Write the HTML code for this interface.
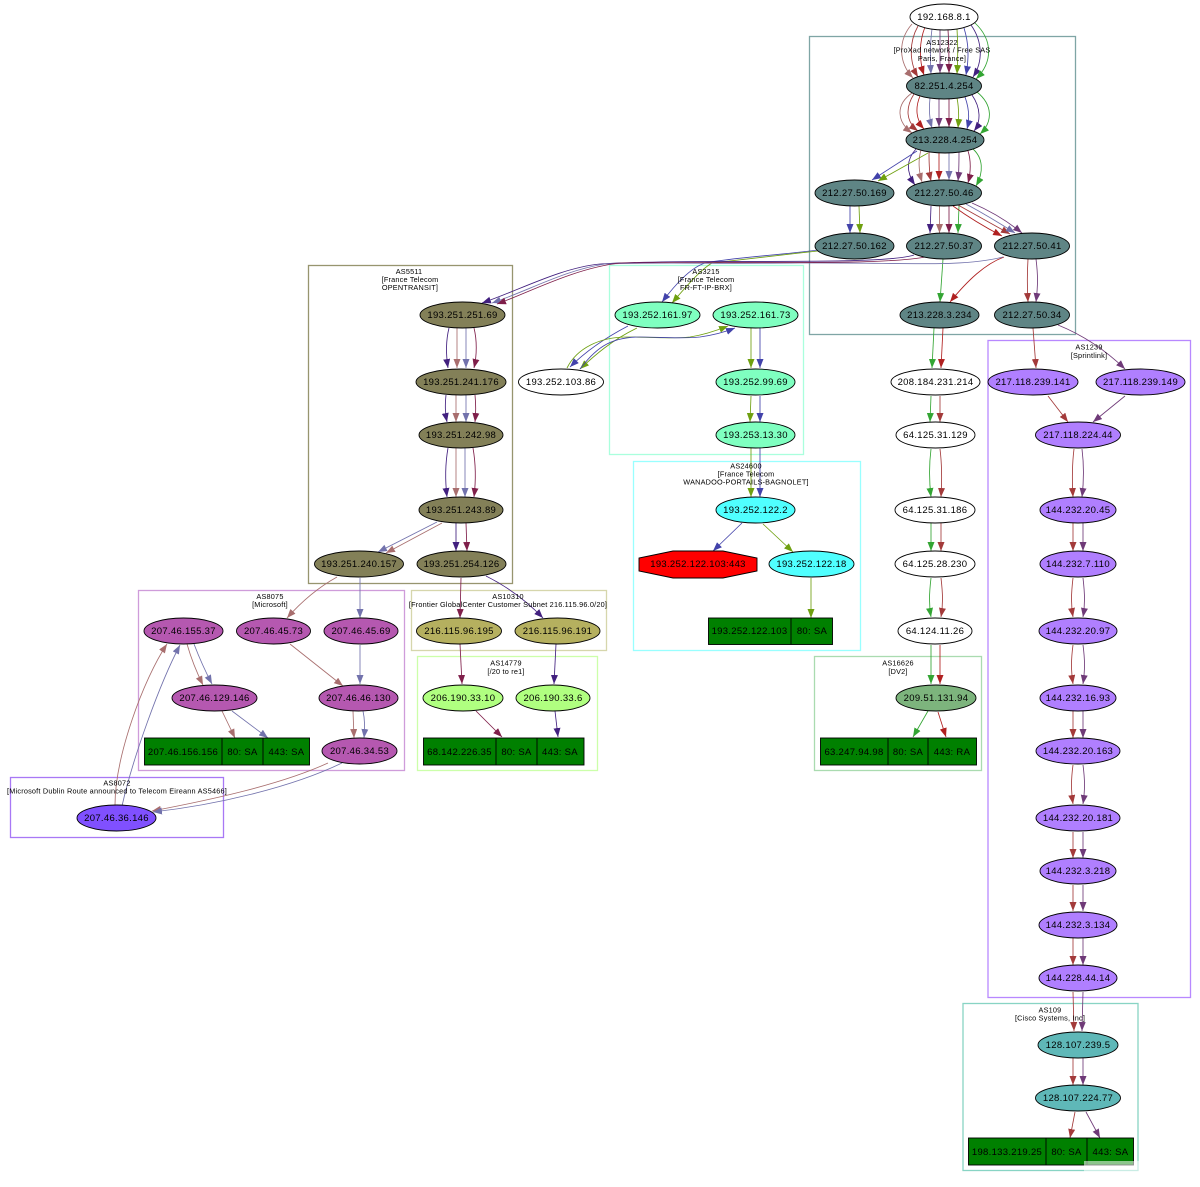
<!DOCTYPE html>
<html><head><meta charset="utf-8"><title>AS trace graph</title>
<style>
html,body{margin:0;padding:0;background:#fff}
svg{display:block}
text{font-family:"Liberation Sans",sans-serif;font-size:9.5px;letter-spacing:.3px;text-anchor:middle;fill:#000}
.l text{font-size:7.3px;letter-spacing:.2px}
.e path{fill:none;stroke-width:.85}
.n ellipse,.n polygon,.n rect{stroke:#000;stroke-width:.9}
.n line{stroke:#000;stroke-width:.9}
.c rect{fill:none;stroke-width:1.3}
.a{stroke:#a86e6e;marker-end:url(#a)}
.b{stroke:#a33a3a;marker-end:url(#b)}
.r{stroke:#b02020;marker-end:url(#r)}
.d{stroke:#7272ac;marker-end:url(#d)}
.p{stroke:#6f3a78;marker-end:url(#p)}
.w{stroke:#7f1f4a;marker-end:url(#w)}
.g{stroke:#6fa010;marker-end:url(#g)}
.h{stroke:#4242aa;marker-end:url(#h)}
.i{stroke:#42207f;marker-end:url(#i)}
.j{stroke:#33a533;marker-end:url(#j)}
</style></head><body>
<svg xmlns="http://www.w3.org/2000/svg" width="1200" height="1187" viewBox="0 0 1200 1187">
<defs>
<marker id="a" markerUnits="userSpaceOnUse" markerWidth="10" markerHeight="8" refX="9" refY="3.5" orient="auto"><polygon points="0,0 9,3.5 0,7" fill="#a86e6e"/></marker>
<marker id="b" markerUnits="userSpaceOnUse" markerWidth="10" markerHeight="8" refX="9" refY="3.5" orient="auto"><polygon points="0,0 9,3.5 0,7" fill="#a33a3a"/></marker>
<marker id="r" markerUnits="userSpaceOnUse" markerWidth="10" markerHeight="8" refX="9" refY="3.5" orient="auto"><polygon points="0,0 9,3.5 0,7" fill="#b02020"/></marker>
<marker id="d" markerUnits="userSpaceOnUse" markerWidth="10" markerHeight="8" refX="9" refY="3.5" orient="auto"><polygon points="0,0 9,3.5 0,7" fill="#7272ac"/></marker>
<marker id="p" markerUnits="userSpaceOnUse" markerWidth="10" markerHeight="8" refX="9" refY="3.5" orient="auto"><polygon points="0,0 9,3.5 0,7" fill="#6f3a78"/></marker>
<marker id="w" markerUnits="userSpaceOnUse" markerWidth="10" markerHeight="8" refX="9" refY="3.5" orient="auto"><polygon points="0,0 9,3.5 0,7" fill="#7f1f4a"/></marker>
<marker id="g" markerUnits="userSpaceOnUse" markerWidth="10" markerHeight="8" refX="9" refY="3.5" orient="auto"><polygon points="0,0 9,3.5 0,7" fill="#6fa010"/></marker>
<marker id="h" markerUnits="userSpaceOnUse" markerWidth="10" markerHeight="8" refX="9" refY="3.5" orient="auto"><polygon points="0,0 9,3.5 0,7" fill="#4242aa"/></marker>
<marker id="i" markerUnits="userSpaceOnUse" markerWidth="10" markerHeight="8" refX="9" refY="3.5" orient="auto"><polygon points="0,0 9,3.5 0,7" fill="#42207f"/></marker>
<marker id="j" markerUnits="userSpaceOnUse" markerWidth="10" markerHeight="8" refX="9" refY="3.5" orient="auto"><polygon points="0,0 9,3.5 0,7" fill="#33a533"/></marker>
</defs>

<g class="c">
<rect x="809.5" y="36.5" width="266" height="298" stroke="#7fa5a5"/>
<rect x="308.5" y="265.5" width="204" height="318" stroke="#97956f"/>
<rect x="609.5" y="265.5" width="194" height="189" stroke="#aaffdd"/>
<rect x="633.5" y="461.5" width="227" height="189" stroke="#99ffff"/>
<rect x="411.5" y="590.5" width="195" height="60" stroke="#d6d6ac"/>
<rect x="417.5" y="656.5" width="180" height="114" stroke="#ccffaa"/>
<rect x="138.5" y="590.5" width="266" height="180" stroke="#cf9cda"/>
<rect x="10.5" y="777.5" width="213" height="60" stroke="#a878f5"/>
<rect x="814.5" y="656.5" width="167" height="114" stroke="#aadbb0"/>
<rect x="988" y="340.5" width="202.5" height="657" stroke="#b888ff"/>
<rect x="963" y="1003.5" width="175" height="167" stroke="#88d4c4"/>
</g>

<g class="e">
<!-- 192 to 82 -->
<path class="a" d="M912,24 C898,40 898,62 913,78"/>
<path class="b" d="M918,26 C909,42 909,62 918,77"/>
<path class="r" d="M925,27 C919,42 919,60 924,75"/>
<path class="d" d="M932,29 C930,44 930,58 931,74"/>
<path class="p" d="M940,30 V73"/>
<path class="w" d="M948,30 C949,44 949,58 949,73"/>
<path class="g" d="M957,29 C958,44 958,58 957,74"/>
<path class="h" d="M964,28 C969,44 969,58 966,75"/>
<path class="i" d="M971,25 C983,42 983,62 973,77"/>
<path class="j" d="M975,23 C993,40 993,62 976,79"/>
<!-- 82 to 213 -->
<path class="a" d="M912,93 C895,105 897,122 912,133"/>
<path class="b" d="M914,94 C905,108 906,122 918,131"/>
<path class="r" d="M920,96 C915,108 916,120 924,129"/>
<path class="d" d="M930,98 C929,108 929,118 932,128"/>
<path class="p" d="M939,99 V127"/>
<path class="w" d="M949,99 V127"/>
<path class="g" d="M957,98 C959,108 959,118 958,128"/>
<path class="h" d="M965,97 C969,108 970,118 967,129"/>
<path class="i" d="M972,95 C981,108 981,122 974,131"/>
<path class="j" d="M977,92 C993,105 993,122 980,134"/>
<!-- 213 to 46 -->
<path class="i" d="M916,149 C906,160 906,172 915,185"/>
<path class="a" d="M921,150 C918,160 919,172 922,182"/>
<path class="b" d="M929,152 C929,160 929,172 931,181"/>
<path class="r" d="M939,153 V180"/>
<path class="d" d="M949,153 V180"/>
<path class="p" d="M959,152 C959,162 959,172 958,181"/>
<path class="w" d="M968,151 C971,160 971,172 968,183"/>
<path class="j" d="M973,149 C983,158 984,172 976,186"/>
<!-- 213 to 169 -->
<path class="h" d="M917,151 L872,180"/>
<path class="g" d="M928,153 L878,181"/>
<path class="h" d="M850,206 V233"/>
<path class="g" d="M859,206 L860,233"/>
<path class="i" d="M931,206 L930,233"/>
<path class="a" d="M939.5,206 V233"/>
<path class="w" d="M949,206 V233"/>
<path class="j" d="M959,206 L958,233"/>
<path class="r" d="M953,206 Q975,222 1002,236"/>
<path class="b" d="M958,205 Q985,220 1010,234"/>
<path class="d" d="M966,204 Q990,217 1015,233"/>
<path class="p" d="M972,203 Q1000,215 1022,233"/>
<path class="j" d="M943,259 L940,302"/>
<path class="r" d="M1004,257 C985,264 968,280 950,302"/>
<path class="b" d="M1028,259 C1027,275 1027,285 1028,302"/>
<path class="p" d="M1036,259 C1038,275 1038,285 1036,302"/>
<path class="b" d="M1033,328 L1036,368"/>
<path class="p" d="M1058,325 Q1095,340 1125,369"/>
<path class="j" d="M934,328 L932,368"/>
<path class="r" d="M943,328 L941,368"/>
<path class="j" d="M931,396 L930,422"/>
<path class="b" d="M940,396 V422"/>
<path class="b" d="M1048,396 L1068,422"/>
<path class="p" d="M1125,396 L1093,422"/>
<!-- right column -->
<path class="j" d="M931,449 C929,465 929,480 931,497"/>
<path class="b" d="M940,449 C942,465 942,480 941,497"/>
<path class="j" d="M931,523 V551"/>
<path class="b" d="M941,523 V551"/>
<path class="j" d="M931,578 C929,595 929,605 931,617"/>
<path class="b" d="M941,578 C943,595 943,605 941,617"/>
<path class="j" d="M931,645 V684"/>
<path class="r" d="M940,645 V684"/>
<path class="j" d="M928,711 L913,737"/>
<path class="r" d="M938,712 L946,737"/>
<!-- sprint -->
<path class="b" d="M1074,449 C1072,465 1072,480 1073,497"/>
<path class="p" d="M1082,449 C1084,465 1084,480 1082,497"/>
<path class="b" d="M1073,523 V551"/>
<path class="p" d="M1083,523 V551"/>
<path class="b" d="M1073,578 C1071,595 1071,605 1073,617"/>
<path class="p" d="M1083,578 C1085,595 1085,605 1083,617"/>
<path class="b" d="M1073,645 C1071,660 1071,670 1073,684"/>
<path class="p" d="M1083,645 C1085,660 1085,670 1083,684"/>
<path class="b" d="M1073,711 V738"/>
<path class="p" d="M1083,711 V738"/>
<path class="b" d="M1073,765 C1071,780 1071,790 1073,804"/>
<path class="p" d="M1083,765 C1085,780 1085,790 1083,804"/>
<path class="b" d="M1073,832 V858"/>
<path class="p" d="M1083,832 V858"/>
<path class="b" d="M1073,885 V911"/>
<path class="p" d="M1083,885 V911"/>
<path class="b" d="M1073,938 V965"/>
<path class="p" d="M1083,938 V965"/>
<path class="b" d="M1073,992 L1074,1031"/>
<path class="p" d="M1083,992 L1082,1031"/>
<path class="b" d="M1073,1058 V1085"/>
<path class="p" d="M1083,1058 V1085"/>
<path class="b" d="M1075,1112 L1070,1138"/>
<path class="p" d="M1086,1112 L1100,1138"/>
<!-- long edges -->
<path class="h" d="M818,250 C770,256 730,258 705,263 C690,268 675,285 662,302"/>
<path class="g" d="M818,251 C780,255 740,260 712,263 C700,270 685,288 672,303"/>
<path class="i" d="M914,255 C880,266 700,258 600,264 C560,268 520,290 482,303"/>
<path class="d" d="M1003,257 C960,268 900,262 800,263 C700,264 660,262 605,264 C565,270 530,290 492,303"/>
<path class="w" d="M925,257 C880,266 720,261 620,263 C575,268 530,292 497,304"/>
<path class="h" d="M628,326 C605,338 585,352 570,367"/>
<path class="g" d="M637,328 C612,340 595,355 580,369"/>
<path class="g" d="M567,368 C577,348 600,337 627,337 C650,337 670,339 690,337 C703,335 718,330 728,326"/>
<path class="h" d="M580,369 C595,350 608,337 640,337 C660,337 680,339 700,337 C714,335 725,332 735,328"/>
<path class="g" d="M751,328 V368"/>
<path class="h" d="M760,328 V368"/>
<path class="g" d="M751,396 L750,422"/>
<path class="h" d="M760,396 V422"/>
<path class="g" d="M751,448 V497"/>
<path class="h" d="M760,448 V497"/>
<path class="h" d="M742,523 L713,551"/>
<path class="g" d="M763,524 L793,552"/>
<path class="g" d="M811,578 V618"/>
<!-- AS5511 -->
<path class="i" d="M449,328 C446,340 446,355 448,368"/>
<path class="a" d="M457,328 V368"/>
<path class="d" d="M466,328 V368"/>
<path class="w" d="M474,328 C477,340 477,355 474,368"/>
<path class="i" d="M446,395 C445,405 445,412 447,422"/>
<path class="a" d="M456,395 V422"/>
<path class="d" d="M466,395 V422"/>
<path class="w" d="M475,395 C476,405 476,412 475,422"/>
<path class="i" d="M448,448 C445,465 445,480 447,497"/>
<path class="a" d="M456,448 V497"/>
<path class="d" d="M465,448 V497"/>
<path class="w" d="M473,448 C476,465 476,480 474,497"/>
<path class="d" d="M437,522 L378,552"/>
<path class="a" d="M442,523 L386,553"/>
<path class="i" d="M456,523 V551"/>
<path class="w" d="M466,523 L467,551"/>
<path class="w" d="M461,578 L460,618"/>
<path class="i" d="M486,576 Q518,592 543,618"/>
<path class="w" d="M460,644 L462,684"/>
<path class="i" d="M556,644 L554,684"/>
<path class="w" d="M476,711 L502,737"/>
<path class="i" d="M555,711 L558,737"/>
<path class="a" d="M337,577 Q310,592 287,618"/>
<path class="d" d="M360,578 V618"/>
<path class="a" d="M290,644 L343,686"/>
<path class="d" d="M360,645 V684"/>
<path class="a" d="M353,711 L354,738"/>
<path class="d" d="M363,711 C365,720 365,728 364,738"/>
<path class="a" d="M187,644 Q193,665 203,685"/>
<path class="d" d="M194,644 Q202,665 212,684"/>
<path class="a" d="M222,711 L235,738"/>
<path class="d" d="M232,711 L268,738"/>
<path class="a" d="M328,763 C280,785 210,800 152,811"/>
<path class="d" d="M342,763 C290,788 215,805 153,812"/>
<path class="a" d="M115,805 C115,757 143,680 167,644"/>
<path class="d" d="M122,806 C133,757 160,683 180,645"/>
</g>

<g class="n">
<ellipse cx="944" cy="17" rx="34" ry="13" fill="#fff"/>
<g fill="#5f8585">
<ellipse cx="944" cy="86" rx="37.5" ry="13"/>
<ellipse cx="945" cy="140" rx="39" ry="13"/>
<ellipse cx="854.5" cy="193" rx="39.5" ry="13"/>
<ellipse cx="944" cy="193" rx="37.5" ry="13"/>
<ellipse cx="854.5" cy="246" rx="39.5" ry="13"/>
<ellipse cx="944" cy="246" rx="37.5" ry="13"/>
<ellipse cx="1032" cy="246" rx="37.5" ry="13"/>
<ellipse cx="939.5" cy="315" rx="39.5" ry="13"/>
<ellipse cx="1032" cy="315" rx="37.5" ry="13"/>
</g>
<g fill="#fff">
<ellipse cx="935.5" cy="382" rx="44.5" ry="13"/>
<ellipse cx="935.5" cy="435" rx="39.5" ry="13"/>
<ellipse cx="935" cy="510" rx="40" ry="13"/>
<ellipse cx="935" cy="564" rx="40" ry="13"/>
<ellipse cx="935" cy="631" rx="37" ry="13"/>
<ellipse cx="561" cy="382" rx="42.5" ry="13"/>
</g>
<ellipse cx="936" cy="698" rx="40" ry="13" fill="#7db47d"/>
<rect x="820.5" y="738" width="156" height="27" fill="#008000"/>
<line x1="888" y1="738" x2="888" y2="765"/><line x1="928" y1="738" x2="928" y2="765"/>
<g fill="#b07fff">
<ellipse cx="1033" cy="382" rx="45" ry="13"/>
<ellipse cx="1140.5" cy="382" rx="44.5" ry="13"/>
<ellipse cx="1078" cy="435" rx="42.5" ry="13"/>
<ellipse cx="1078" cy="510" rx="38" ry="13"/>
<ellipse cx="1078" cy="564" rx="38" ry="13"/>
<ellipse cx="1078" cy="631" rx="39" ry="13"/>
<ellipse cx="1078" cy="698" rx="38" ry="13"/>
<ellipse cx="1078" cy="751" rx="42" ry="13"/>
<ellipse cx="1078" cy="818" rx="42" ry="13"/>
<ellipse cx="1078" cy="871" rx="38" ry="13"/>
<ellipse cx="1078" cy="925" rx="39" ry="13"/>
<ellipse cx="1078" cy="978" rx="39" ry="13"/>
</g>
<g fill="#5fb8b8">
<ellipse cx="1078" cy="1045" rx="40" ry="13"/>
<ellipse cx="1078" cy="1098" rx="42.5" ry="13"/>
</g>
<rect x="968.5" y="1138" width="165" height="27" fill="#008000"/>
<line x1="1046" y1="1138" x2="1046" y2="1165"/><line x1="1087" y1="1138" x2="1087" y2="1165"/>
<g fill="#838058">
<ellipse cx="462.5" cy="315" rx="42.5" ry="13"/>
<ellipse cx="461" cy="382" rx="45" ry="13"/>
<ellipse cx="461" cy="435" rx="42" ry="13"/>
<ellipse cx="461" cy="510" rx="42" ry="13"/>
<ellipse cx="359" cy="564" rx="44.5" ry="13"/>
<ellipse cx="461.5" cy="564" rx="44.5" ry="13"/>
</g>
<g fill="#7fffc0">
<ellipse cx="657.5" cy="315" rx="42.5" ry="13"/>
<ellipse cx="755.5" cy="315" rx="42.5" ry="13"/>
<ellipse cx="755.5" cy="382" rx="39.5" ry="13"/>
<ellipse cx="755.5" cy="435" rx="39.5" ry="13"/>
</g>
<g fill="#50ffff">
<ellipse cx="755.5" cy="510" rx="39.5" ry="13"/>
<ellipse cx="811.5" cy="564" rx="42.5" ry="13"/>
</g>
<polygon points="673,551 723,551 757,558 757,571 723,578 673,578 639,571 639,558" fill="#ff0000"/>
<rect x="708.5" y="618" width="124" height="26.5" fill="#008000"/>
<line x1="791" y1="618" x2="791" y2="644.5"/>
<g fill="#b5b05f">
<ellipse cx="459" cy="631" rx="42.5" ry="13"/>
<ellipse cx="557.5" cy="631" rx="42.5" ry="13"/>
</g>
<g fill="#b0ff80">
<ellipse cx="463" cy="698" rx="40" ry="13"/>
<ellipse cx="553" cy="698" rx="37" ry="13"/>
</g>
<rect x="423.5" y="738" width="160.5" height="27" fill="#008000"/>
<line x1="496" y1="738" x2="496" y2="765"/><line x1="537" y1="738" x2="537" y2="765"/>
<g fill="#b558b0">
<ellipse cx="183.5" cy="631" rx="39.5" ry="13"/>
<ellipse cx="273.5" cy="631" rx="37" ry="13"/>
<ellipse cx="361" cy="631" rx="37" ry="13"/>
<ellipse cx="214.5" cy="698" rx="42.5" ry="13"/>
<ellipse cx="358.5" cy="698" rx="39.5" ry="13"/>
<ellipse cx="359.5" cy="751" rx="37.5" ry="13"/>
</g>
<rect x="144.5" y="738" width="165" height="27" fill="#008000"/>
<line x1="222" y1="738" x2="222" y2="765"/><line x1="263" y1="738" x2="263" y2="765"/>
<ellipse cx="116.5" cy="818" rx="39.5" ry="13" fill="#8050ff"/>
</g>

<rect x="1084" y="1161" width="58" height="12" fill="#fff" opacity=".55"/>

<g>
<text x="944" y="20">192.168.8.1</text>
<text x="944" y="89">82.251.4.254</text>
<text x="945" y="143">213.228.4.254</text>
<text x="854.5" y="196">212.27.50.169</text>
<text x="944" y="196">212.27.50.46</text>
<text x="854.5" y="249">212.27.50.162</text>
<text x="944" y="249">212.27.50.37</text>
<text x="1032" y="249">212.27.50.41</text>
<text x="939.5" y="318">213.228.3.234</text>
<text x="1032" y="318">212.27.50.34</text>
<text x="935.5" y="385">208.184.231.214</text>
<text x="935.5" y="438">64.125.31.129</text>
<text x="935" y="513">64.125.31.186</text>
<text x="935" y="567">64.125.28.230</text>
<text x="935" y="634">64.124.11.26</text>
<text x="936" y="701">209.51.131.94</text>
<text x="854" y="755">63.247.94.98</text>
<text x="908" y="755">80: SA</text>
<text x="952" y="755">443: RA</text>
<text x="1033" y="385">217.118.239.141</text>
<text x="1140.5" y="385">217.118.239.149</text>
<text x="1078" y="438">217.118.224.44</text>
<text x="1078" y="513">144.232.20.45</text>
<text x="1078" y="567">144.232.7.110</text>
<text x="1078" y="634">144.232.20.97</text>
<text x="1078" y="701">144.232.16.93</text>
<text x="1078" y="754">144.232.20.163</text>
<text x="1078" y="821">144.232.20.181</text>
<text x="1078" y="874">144.232.3.218</text>
<text x="1078" y="928">144.232.3.134</text>
<text x="1078" y="981">144.228.44.14</text>
<text x="1078" y="1048">128.107.239.5</text>
<text x="1078" y="1101">128.107.224.77</text>
<text x="1007" y="1155">198.133.219.25</text>
<text x="1066.5" y="1155">80: SA</text>
<text x="1110.5" y="1155">443: SA</text>
<text x="462.5" y="318">193.251.251.69</text>
<text x="461" y="385">193.251.241.176</text>
<text x="461" y="438">193.251.242.98</text>
<text x="461" y="513">193.251.243.89</text>
<text x="359" y="567">193.251.240.157</text>
<text x="461.5" y="567">193.251.254.126</text>
<text x="657.5" y="318">193.252.161.97</text>
<text x="755.5" y="318">193.252.161.73</text>
<text x="561" y="385">193.252.103.86</text>
<text x="755.5" y="385">193.252.99.69</text>
<text x="755.5" y="438">193.253.13.30</text>
<text x="755.5" y="513">193.252.122.2</text>
<text x="698" y="567">193.252.122.103:443</text>
<text x="811.5" y="567">193.252.122.18</text>
<text x="749.5" y="634">193.252.122.103</text>
<text x="812" y="634">80: SA</text>
<text x="459" y="634">216.115.96.195</text>
<text x="557.5" y="634">216.115.96.191</text>
<text x="463" y="701">206.190.33.10</text>
<text x="553" y="701">206.190.33.6</text>
<text x="459.5" y="755">68.142.226.35</text>
<text x="516.5" y="755">80: SA</text>
<text x="560" y="755">443: SA</text>
<text x="183.5" y="634">207.46.155.37</text>
<text x="273.5" y="634">207.46.45.73</text>
<text x="361" y="634">207.46.45.69</text>
<text x="214.5" y="701">207.46.129.146</text>
<text x="358.5" y="701">207.46.46.130</text>
<text x="359.5" y="754">207.46.34.53</text>
<text x="183" y="755">207.46.156.156</text>
<text x="242.5" y="755">80: SA</text>
<text x="286.5" y="755">443: SA</text>
<text x="116.5" y="821">207.46.36.146</text>
</g>

<g class="l">
<text x="942" y="45">AS12322</text>
<text x="942" y="52.5">[ProXad network / Free SAS</text>
<text x="942" y="61">Paris, France]</text>
<text x="409" y="274">AS5511</text>
<text x="410" y="282">[France Telecom</text>
<text x="410" y="290">OPENTRANSIT]</text>
<text x="706" y="274">AS3215</text>
<text x="706" y="282">[France Telecom</text>
<text x="706" y="290">FR-FT-IP-BRX]</text>
<text x="746" y="468.5">AS24600</text>
<text x="746" y="476.5">[France Telecom</text>
<text x="746" y="484.5">WANADOO-PORTAILS-BAGNOLET]</text>
<text x="508" y="599">AS10310</text>
<text x="508" y="607">[Frontier GlobalCenter Customer Subnet 216.115.96.0/20]</text>
<text x="506" y="665.5">AS14779</text>
<text x="506" y="674">[/20 to re1]</text>
<text x="270" y="599">AS8075</text>
<text x="270" y="607">[Microsoft]</text>
<text x="117" y="785.5">AS8072</text>
<text x="117" y="793.5">[Microsoft Dublin Route announced to Telecom Eireann AS5466]</text>
<text x="898" y="665.5">AS16626</text>
<text x="898" y="674">[DV2]</text>
<text x="1089" y="349.5">AS1239</text>
<text x="1089" y="358">[Sprintlink]</text>
<text x="1050" y="1012.5">AS109</text>
<text x="1050" y="1020.5">[Cisco Systems, Inc]</text>
</g>
</svg>
</body></html>
